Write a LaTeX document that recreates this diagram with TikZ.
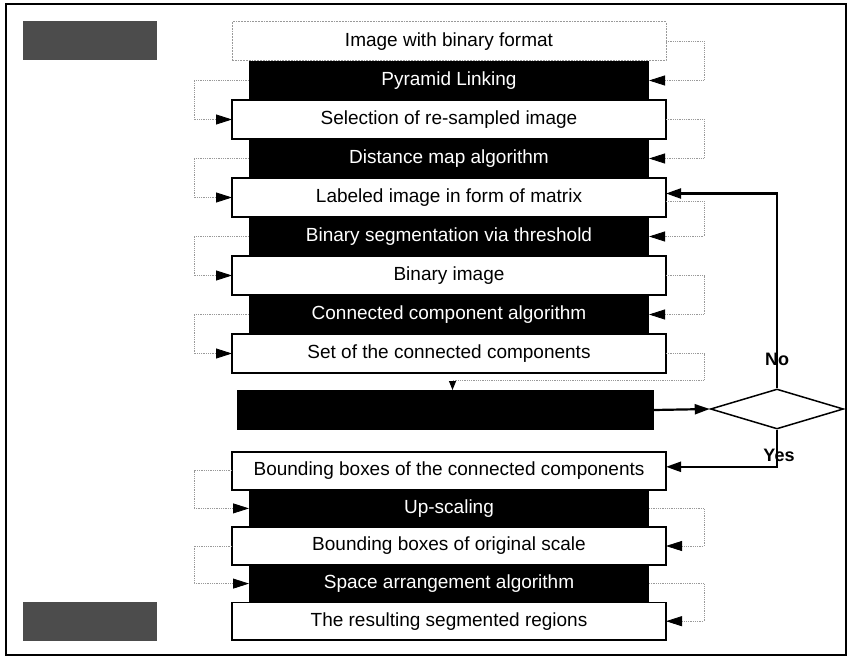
\documentclass[tikz,border=0pt]{standalone}
\usepackage{fontspec}
\setmainfont{Liberation Sans}
\usetikzlibrary{shapes.geometric, arrows.meta, positioning}

\begin{document}
\begin{tikzpicture}[
    x=1pt, y=-1pt,
    node distance=0pt,
    wblock/.style={rectangle, draw, line width=1.8pt, fill=white, minimum width=434pt, minimum height=#1, inner sep=0pt, outer sep=0pt, font=\fontsize{19}{22}\selectfont},
    wblock/.default=39pt,
    bblock/.style={rectangle, fill=black, text=white, minimum width=400pt, minimum height=#1, inner sep=0pt, outer sep=0pt, font=\fontsize{19}{22}\selectfont},
    bblock/.default=39pt,
    tag/.style={rectangle, fill=black!70, minimum width=134pt, minimum height=39pt},
    link/.style={-{Triangle[length=16pt, width=10pt, black]}, densely dotted, draw=black!40, line width=0.8pt},
    arrow/.style={-{Triangle[length=15pt, width=10pt]}, line width=2.2pt},
    decision/.style={diamond, draw, line width=1.5pt, minimum width=133pt, minimum height=40pt, inner sep=0pt},
    answer/.style={font=\bfseries\fontsize{18}{20}\selectfont},
]
    \useasboundingbox (0,0) rectangle (852,658);
    \draw[line width=1.5pt] (6,4) rectangle (846,655);

    \node[tag] (intag) at (90,41) {};
    \node[tag] (outtag) at (90,621) {};

    \coordinate (lft) at (194,0);
    \coordinate (rgt) at (704,0);

    \node[wblock, draw=black!40, densely dotted, line width=1pt] (binfmt) at (449,41.5) {Image with binary format};
    \node[bblock, below=of binfmt] (pyramid) {Pyramid Linking};
    \node[wblock, below=of pyramid] (resample) {Selection of re-sampled image};
    \node[bblock, below=of resample] (distmap) {Distance map algorithm};
    \node[wblock, below=of distmap] (labeled) {Labeled image in form of matrix};
    \node[bblock, below=of labeled] (thresh) {Binary segmentation via threshold};
    \node[wblock, below=of thresh] (binimg) {Binary image};
    \node[bblock, below=of binimg] (ccalg) {Connected component algorithm};
    \node[wblock, below=of ccalg] (ccset) {Set of the connected components};

    \node[bblock, minimum width=417pt, minimum height=40pt] (check) at (445.5,410) {};
    \node[decision] (decide) at (777,409) {};

    \node[wblock=37.6pt] (bbox) at (449,470.8) {Bounding boxes of the connected components};
    \node[bblock=37.6pt, below=of bbox] (upscale) {Up-scaling};
    \node[wblock=37.6pt, below=of upscale] (bborig) {Bounding boxes of original scale};
    \node[bblock=37.6pt, below=of bborig] (arrange) {Space arrangement algorithm};
    \node[wblock=37.6pt, below=of arrange] (result) {The resulting segmented regions};

    \draw[link] (binfmt.east) -- (binfmt.east -| rgt) |- (pyramid.east);
    \draw[link] (pyramid.west) -- (pyramid.west -| lft) |- (resample.west);
    \draw[link] (resample.east) -- (resample.east -| rgt) |- (distmap.east);
    \draw[link] (distmap.west) -- (distmap.west -| lft) |- (labeled.west);
    \draw[link] (labeled.east) ++(0,4) -- ([yshift=-4pt]labeled.east -| rgt) |- (thresh.east);
    \draw[link] (thresh.west) -- (thresh.west -| lft) |- (binimg.west);
    \draw[link] (binimg.east) -- (binimg.east -| rgt) |- (ccalg.east);
    \draw[link] (ccalg.west) -- (ccalg.west -| lft) |- (ccset.west);
    \draw[link, -{Triangle[length=9pt, width=7pt, black]}] (ccset.east) -- (ccset.east -| rgt) |- ([xshift=7pt, yshift=10pt]check.north) -- ([xshift=7pt]check.north);

    \draw[link] (bbox.west) -- (bbox.west -| lft) |- (upscale.west);
    \draw[link] (upscale.east) -- (upscale.east -| rgt) |- (bborig.east);
    \draw[link] (bborig.west) -- (bborig.west -| lft) |- (arrange.west);
    \draw[link] (arrange.east) -- (arrange.east -| rgt) |- (result.east);

    \draw[arrow] (check.east) -- (decide.west);
    \draw[arrow] (decide.north) |- node[pos=0.075, answer] {No} ([yshift=4pt]labeled.east);
    \draw[arrow] (decide.south) |- node[pos=0.35, xshift=2pt, answer] {Yes} ([yshift=4pt]bbox.east);
\end{tikzpicture}
\end{document}
